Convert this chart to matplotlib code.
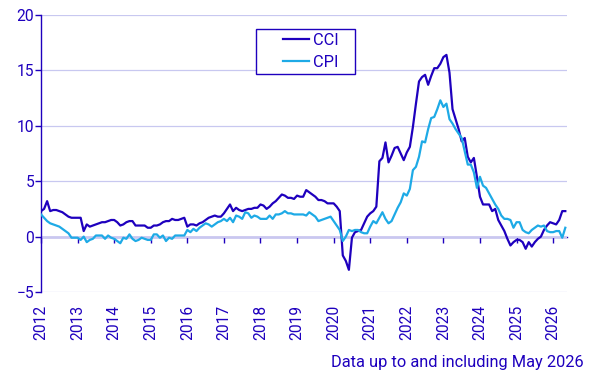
import numpy as np
import matplotlib
matplotlib.use('Agg')
import matplotlib.pyplot as plt
from matplotlib.legend_handler import HandlerLine2D

plt.rcParams['font.family'] = ['Roboto', 'DejaVu Sans']

# monthly annual change (%), Jan 2012 - May 2026
cci = [
    2.3, 2.5, 3.2, 2.3, 2.4, 2.4, 2.3, 2.2, 2.0, 1.8, 1.7, 1.7,        # 2012
    1.7, 1.7, 0.5, 1.1, 0.9, 1.0, 1.1, 1.2, 1.3, 1.3, 1.4, 1.5,        # 2013
    1.5, 1.3, 1.0, 1.1, 1.3, 1.4, 1.4, 1.0, 1.0, 1.0, 1.0, 0.8,        # 2014
    0.8, 1.0, 1.0, 1.1, 1.3, 1.4, 1.4, 1.6, 1.5, 1.5, 1.6, 1.7,        # 2015
    0.9, 1.1, 1.1, 1.0, 1.2, 1.3, 1.5, 1.7, 1.8, 1.9, 1.8, 1.8,        # 2016
    2.1, 2.5, 2.9, 2.3, 2.6, 2.4, 2.3, 2.4, 2.5, 2.5, 2.6, 2.6,        # 2017
    2.9, 2.8, 2.5, 2.7, 3.0, 3.2, 3.5, 3.8, 3.7, 3.5, 3.5, 3.4,        # 2018
    3.7, 3.6, 3.6, 4.2, 4.0, 3.8, 3.6, 3.3, 3.3, 3.2, 3.0, 3.0,        # 2019
    3.0, 2.7, 2.3, -1.7, -2.2, -3.0, -0.1, 0.4, 0.5, 0.6, 1.2, 1.8,    # 2020
    2.1, 2.3, 2.7, 6.8, 7.1, 8.5, 6.7, 7.3, 8.0, 8.1, 7.5, 6.9,        # 2021
    7.6, 8.1, 9.9, 12.0, 14.0, 14.4, 14.6, 13.7, 14.5, 15.2, 15.2, 15.6,  # 2022
    16.2, 16.4, 14.8, 11.5, 10.6, 9.7, 8.6, 8.9, 7.2, 6.7, 7.1, 5.4,   # 2023
    3.6, 2.9, 2.9, 2.9, 2.3, 2.5, 1.5, 1.0, 0.5, -0.2, -0.8, -0.5,     # 2024
    -0.3, -0.3, -0.5, -1.1, -0.5, -0.9, -0.5, -0.2, 0.0, 0.6, 1.0, 1.3,  # 2025
    1.2, 1.1, 1.5, 2.3, 2.3,                                           # 2026
]
cpi = [
    2.0, 1.7, 1.4, 1.2, 1.1, 1.0, 0.9, 0.7, 0.5, 0.3, -0.1, -0.1,      # 2012
    -0.1, -0.3, 0.0, -0.5, -0.3, -0.2, 0.1, 0.1, 0.1, -0.2, 0.1, -0.1,  # 2013
    -0.2, -0.4, -0.6, -0.1, -0.2, 0.2, -0.2, -0.4, -0.3, -0.1, -0.2, -0.3,  # 2014
    -0.3, 0.2, 0.2, -0.1, 0.1, -0.4, -0.1, -0.2, 0.1, 0.1, 0.1, 0.1,   # 2015
    0.6, 0.4, 0.7, 0.5, 0.8, 1.0, 1.2, 1.1, 0.9, 1.1, 1.3, 1.4,        # 2016
    1.6, 1.4, 1.7, 1.3, 1.9, 1.8, 1.6, 2.2, 2.1, 1.7, 1.9, 1.8,        # 2017
    1.6, 1.6, 1.6, 1.9, 1.6, 2.0, 2.0, 2.1, 2.3, 2.1, 2.1, 2.0,        # 2018
    2.0, 2.0, 2.0, 1.9, 2.2, 2.0, 1.8, 1.4, 1.5, 1.6, 1.7, 1.8,        # 2019
    1.4, 1.0, 0.6, -0.4, 0.0, 0.6, 0.5, 0.6, 0.6, 0.4, 0.3, 0.3,       # 2020
    0.9, 1.4, 1.2, 1.7, 2.2, 1.6, 1.2, 1.4, 2.0, 2.6, 3.1, 3.9,        # 2021
    3.7, 4.3, 6.0, 6.3, 7.2, 8.6, 8.5, 9.7, 10.7, 10.8, 11.5, 12.3,    # 2022
    11.7, 12.0, 10.6, 10.2, 9.7, 9.3, 8.9, 7.7, 6.5, 6.5, 5.8, 4.4,    # 2023
    5.4, 4.6, 4.4, 3.9, 3.4, 2.9, 2.5, 1.9, 1.6, 1.6, 1.5, 0.8,        # 2024
    1.3, 1.3, 0.6, 0.4, 0.3, 0.6, 0.8, 1.0, 0.9, 1.0, 0.5, 0.4,        # 2025
    0.4, 0.5, 0.5, -0.1, 0.8,                                          # 2026
]
years = list(range(2012, 2027))
footnote = 'Data up to and including May 2026'

dark = '#1e00be'
light = '#1eaae6'
grid = '#c8c8f0'

x = 2012 + np.arange(len(cci)) / 12

fig = plt.figure(figsize=(5.92, 3.76), dpi=100)
ax = fig.add_axes([0.0693, 0.2234, 0.8885, 0.7367])

ax.plot(x, cci, color=dark, lw=1.6, label='CCI', zorder=3)
ax.plot(x, cpi, color=light, lw=1.6, label='CPI', zorder=3)

ax.set_xlim(2012, 2026.38)
ax.set_ylim(-5, 20)
ax.set_yticks([-5, 0, 5, 10, 15, 20])
ax.set_xticks(years)
ax.set_xticklabels([str(y) for y in years], rotation=90, va='top')

ax.grid(axis='y', color=grid, lw=0.9)
ax.set_axisbelow(True)
for s in ['top', 'right', 'bottom']:
    ax.spines[s].set_visible(False)
ax.spines['left'].set_color(dark)
ax.spines['left'].set_linewidth(1.0)

ax.tick_params(axis='y', colors=dark, labelsize=11.2, length=4, width=1.0, pad=1)
ax.tick_params(axis='x', colors=dark, labelsize=11.2, length=0, pad=9)

# zero line with the year ticks
zero = ax.secondary_xaxis(0.2)
zero.set_xticks(years)
zero.tick_params(axis='x', colors=dark, length=4, width=1.0, labelbottom=False)
zero.spines['bottom'].set_color(dark)
zero.spines['bottom'].set_linewidth(1.0)

leg = ax.legend(loc='upper left', bbox_to_anchor=(0.4087, 0.79, 0.188, 0.1595),
                mode='expand', borderaxespad=0, borderpad=0.25, fontsize=11.8,
                handlelength=3.0, handletextpad=0.25, labelspacing=0.4,
                fancybox=False, framealpha=1, labelcolor=dark,
                handler_map={matplotlib.lines.Line2D: HandlerLine2D(xpad=1.4)})
leg.get_frame().set_edgecolor(dark)
leg.get_frame().set_linewidth(1.0)

fig.text(0.9865, 0.035, footnote, ha='right', va='center', fontsize=11.8, color=dark)

fig.savefig('out.png', dpi=100)
